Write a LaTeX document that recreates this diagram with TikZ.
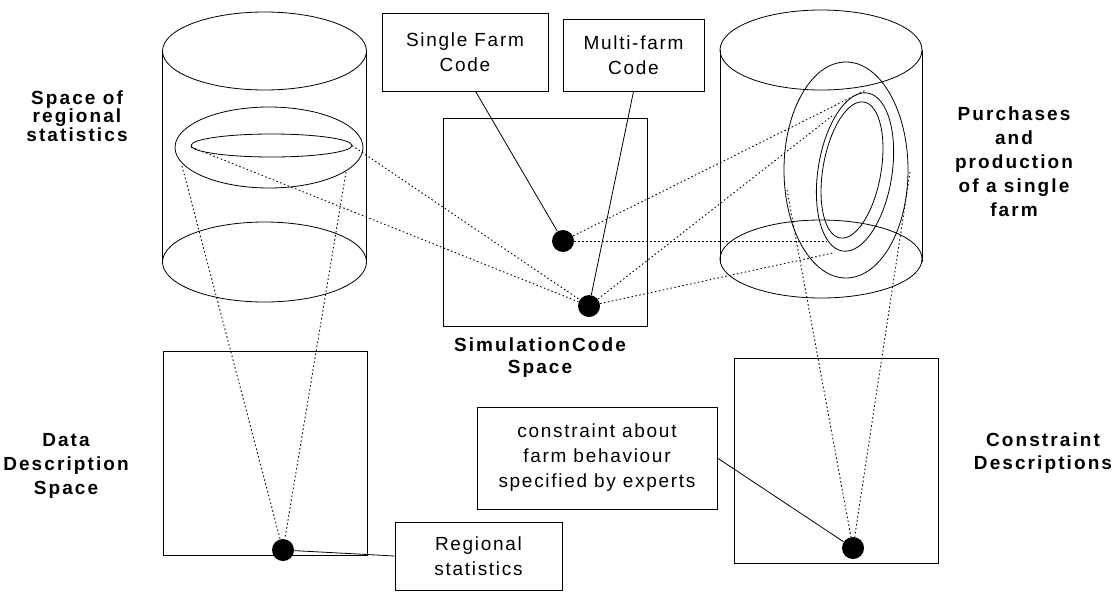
\documentclass[tikz,border=0pt]{standalone}
\usepackage{fontspec}
\setmainfont{Liberation Sans}[LetterSpace=9,BoldFeatures={LetterSpace=11}]

\tikzset{
  box/.style={rectangle, draw, line width=0.8pt, inner sep=0pt, align=center, font=\fontsize{19}{25}\selectfont},
  lbl/.style={align=center, font=\bfseries\fontsize{19}{24}\selectfont},
  spot/.style={circle, fill=black, inner sep=0pt, minimum size=22pt},
  proj/.style={line width=0.9pt, dash pattern=on 1.5pt off 2.5pt},
}

\begin{document}
\begin{tikzpicture}[x=1pt, y=-1pt, line width=0.8pt]
\useasboundingbox (0,0) rectangle (1115,592);

% left cylinder
\draw (264.5,51) ellipse [x radius=102, y radius=39];
\draw (264.5,262) ellipse [x radius=102, y radius=40];
\draw (162.5,51) -- (162.5,264);
\draw (366.5,51) -- (366.5,264);
\draw (269,147.5) ellipse [x radius=94, y radius=40.5];
\draw (271.5,145.5) ellipse [x radius=80.5, y radius=11.5];
\coordinate (inL) at (191,147);
\coordinate (inR) at (352,145.5);
\coordinate (midL) at (182,166);
\coordinate (midR) at (346,172);

% right cylinder
\draw (821,50) ellipse [x radius=101, y radius=40];
\draw (821,259) ellipse [x radius=101, y radius=39];
\draw (720,50) -- (720,262);
\draw (922,50) -- (922,262);
\draw (846,170) ellipse [x radius=62, y radius=108];
\draw[rotate around={-9:(855,172)}] (855,172) ellipse [x radius=37, y radius=80];
\draw[rotate around={-10:(852,170)}] (852,170) ellipse [x radius=29, y radius=69];
\coordinate (topA) at (866,90);
\coordinate (botA) at (827,241);
\coordinate (topB) at (832,116);
\coordinate (botB) at (833,253);
\coordinate (bigL) at (787,190);
\coordinate (bigR) at (910,172);

% boxes
\node (sfc) at (465,52) [box, minimum width=166, minimum height=78] {Single Farm\\Code};
\node (mfc) at (633.5,55) [box, minimum width=141, minimum height=72] {Multi-farm\\Code};
\node (sim) at (545,222) [box, minimum width=204, minimum height=208] {};
\node (dds) at (265,453) [box, minimum width=204, minimum height=204] {};
\node (cds) at (836,460.5) [box, minimum width=204, minimum height=205] {};
\node (regstat) at (478.5,556) [box, minimum width=167, minimum height=68] {Regional\\statistics};
\node (expert) at (597,458) [box, minimum width=240, minimum height=102] {constraint about\\farm behaviour\\specified by experts};

% labels
\node (spaceLbl) at (77,116) [lbl, font=\bfseries\fontsize{19}{17.5}\selectfont] {Space of\\regional\\statistics};
\node (purchLbl) at (1014,162) [lbl] {Purchases\\and\\production\\of a single\\farm};
\node (simLbl) at (540,358) [lbl, font=\bfseries\fontsize{19}{22}\selectfont] {SimulationCode\\Space};
\node (dataLbl) at (66,466) [lbl] {Data\\Description\\Space};
\node (consLbl) at (1043,453) [lbl, font=\bfseries\fontsize{19}{23}\selectfont] {Constraint\\Descriptions};

% points
\node (dotData) at (283,550) [spot] {};
\node (dotSingle) at (563,241) [spot] {};
\node (dotMulti) at (589,306) [spot] {};
\node (dotCons) at (853,548) [spot] {};

% projections
\draw[proj] (inL) -- (dotMulti);
\draw[proj] (inR) -- (dotMulti);
\draw[proj] (dotSingle) -- (topA);
\draw[proj] (dotSingle) -- (botA);
\draw[proj] (dotMulti) -- (topB);
\draw[proj] (dotMulti) -- (botB);
\draw[proj] (midL) -- (dotData);
\draw[proj] (midR) -- (dotData);
\draw[proj] (bigL) -- (dotCons);
\draw[proj] (bigR) -- (dotCons);

% links
\draw (sfc.-75) -- (dotSingle);
\draw (mfc.south) -- (dotMulti);
\draw (regstat.west) -- (dotData);
\draw (expert.east) -- (dotCons);

\end{tikzpicture}
\end{document}
